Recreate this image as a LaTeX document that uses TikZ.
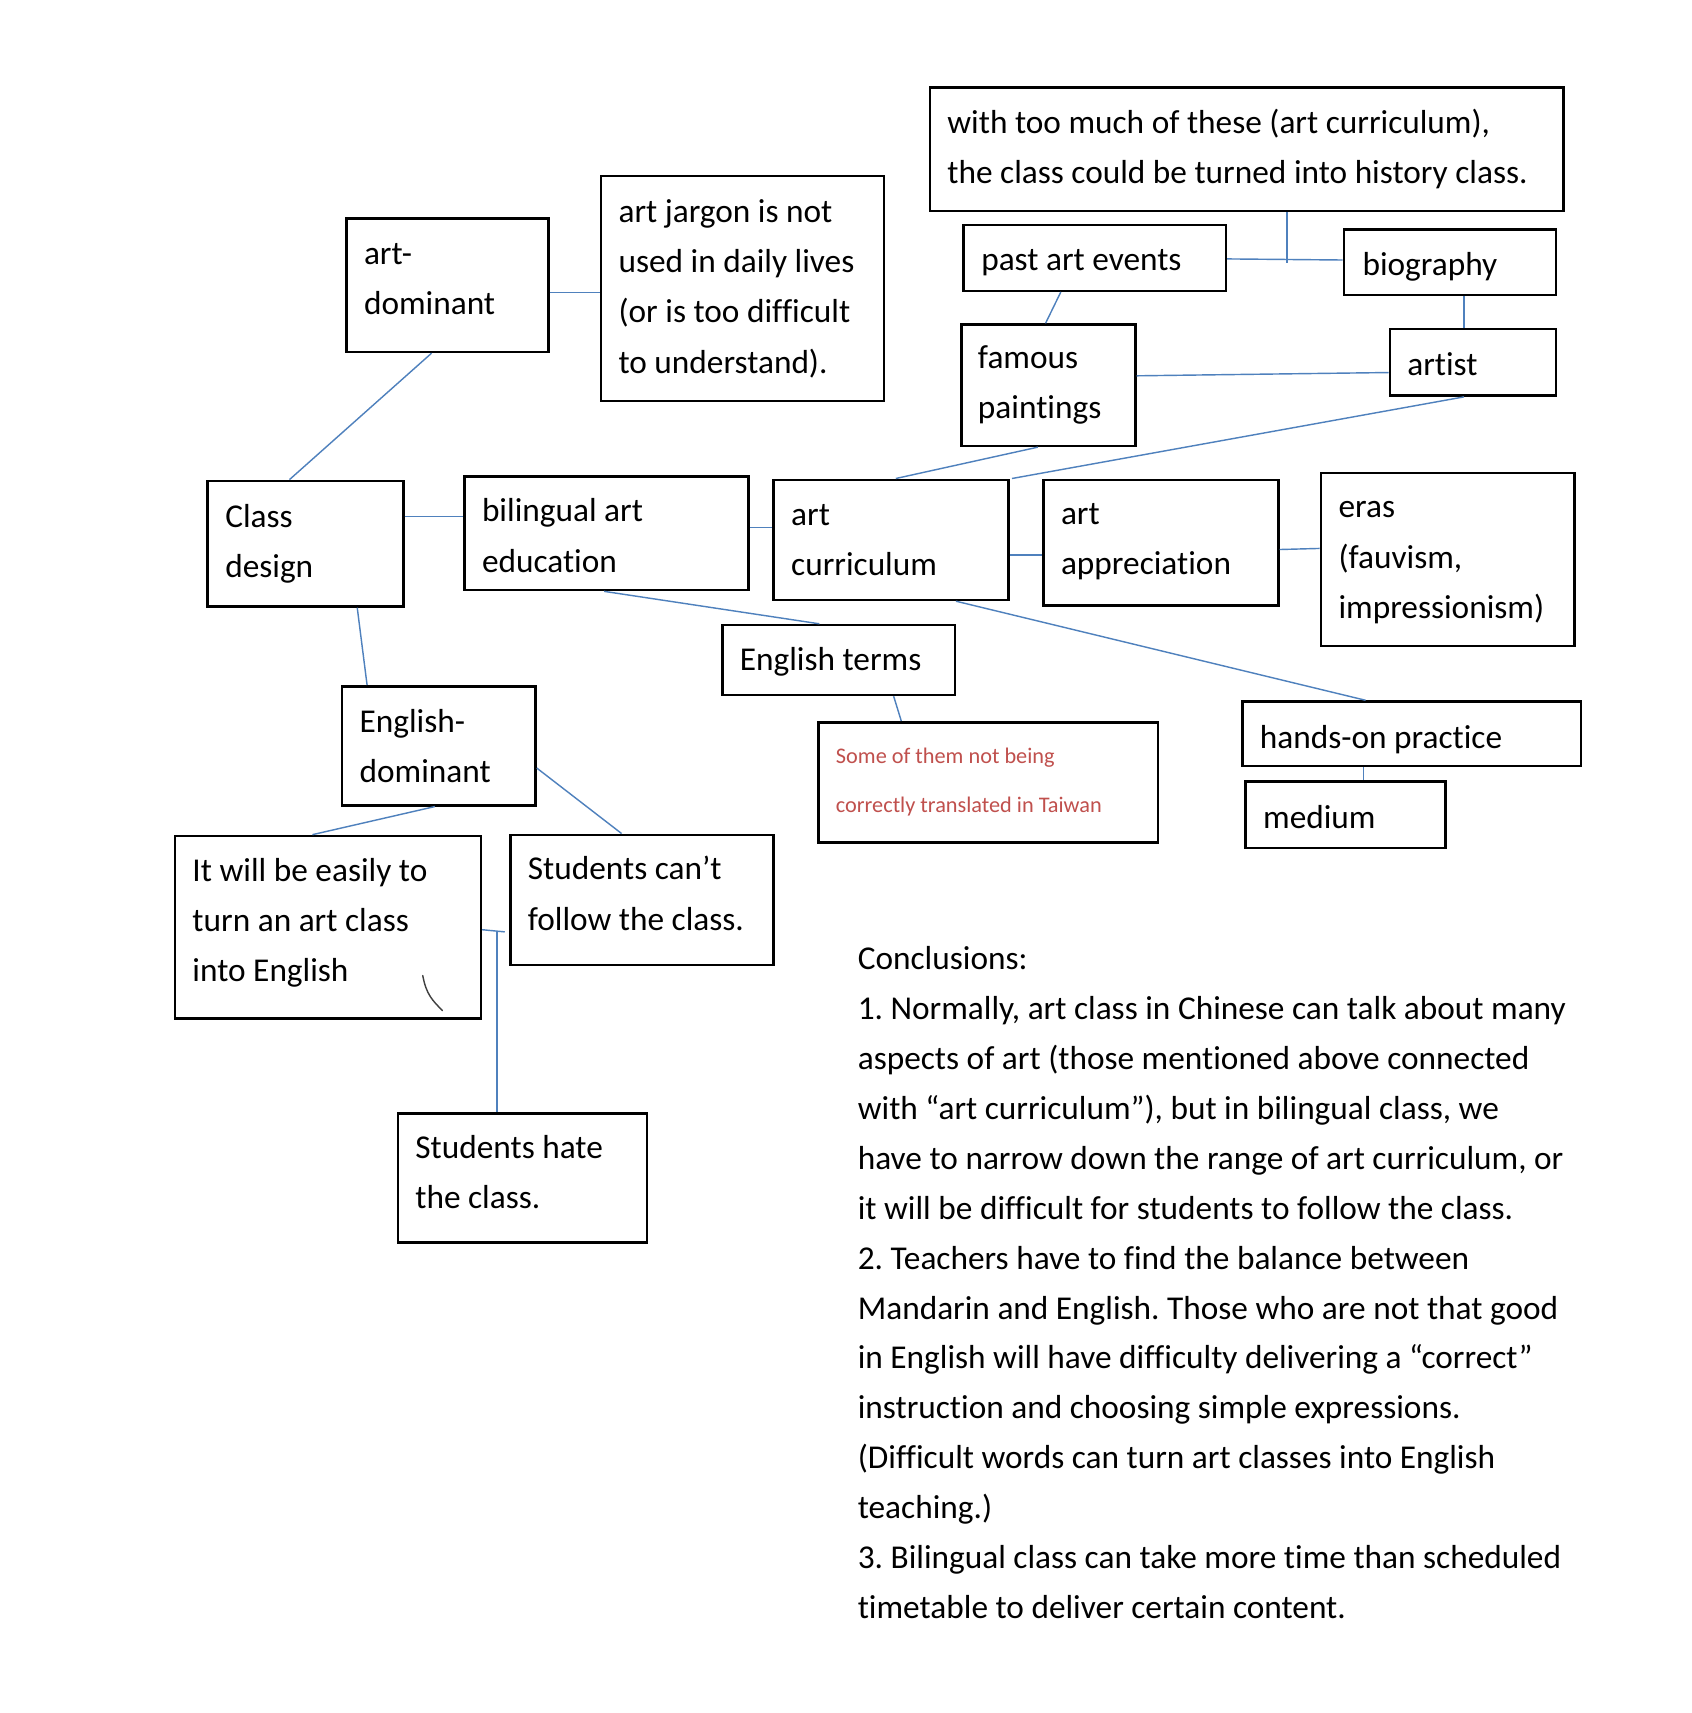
\documentclass[tikz,border=0pt]{standalone}
\usepackage{fontspec}
\setmainfont[Ligatures=NoCommon]{Carlito}
\frenchspacing
\definecolor{connblue}{RGB}{79,129,189}
\definecolor{notered}{RGB}{192,80,77}
\begin{document}
\begin{tikzpicture}[x=1pt,y=-1pt,
  box/.style={draw=black, line width=2.3pt, anchor=north west, inner sep=0pt},
  lbl/.style={anchor=west, align=left, inner sep=0pt, font=\fontsize{30.5}{46}\selectfont},
  redlbl/.style={anchor=west, align=left, inner sep=0pt, text=notered, font=\fontsize{20.4}{45}\selectfont},
  conline/.style={anchor=base west, inner sep=0pt, font=\fontsize{30.5}{46}\selectfont},
  conn/.style={draw=connblue, line width=1.3pt}]
\useasboundingbox[fill=white] (0,0) rectangle (1548,1568);
% boxes
\node[box, minimum width=580pt, minimum height=113pt] (hist) at (850,79) {};
\node[box, minimum width=259pt, minimum height=206pt] (jargon) at (549,160) {};
\node[box, minimum width=185pt, minimum height=122pt] (artdom) at (316,199) {};
\node[box, minimum width=240pt, minimum height=60pt] (past) at (881,205) {};
\node[box, minimum width=194pt, minimum height=60pt] (bio) at (1229,209) {};
\node[box, minimum width=159pt, minimum height=111pt] (famous) at (879,296) {};
\node[box, minimum width=152pt, minimum height=61pt] (artist) at (1271,300) {};
\node[box, minimum width=179pt, minimum height=115pt] (classd) at (189,439) {};
\node[box, minimum width=260pt, minimum height=104pt] (bil) at (424,435) {};
\node[box, minimum width=215pt, minimum height=110pt] (artcur) at (707,438) {};
\node[box, minimum width=215pt, minimum height=115pt] (artapp) at (954,438) {};
\node[box, minimum width=232pt, minimum height=158pt] (eras) at (1208,432) {};
\node[box, minimum width=213pt, minimum height=64pt] (terms) at (660,571) {};
\node[box, minimum width=311pt, minimum height=110pt] (red) at (748,660) {};
\node[box, minimum width=310pt, minimum height=59pt] (hands) at (1136,641) {};
\node[box, minimum width=183pt, minimum height=61pt] (medium) at (1139,714) {};
\node[box, minimum width=177pt, minimum height=109pt] (engdom) at (312,627) {};
\node[box, minimum width=280pt, minimum height=167pt] (itwill) at (159,764) {};
\node[box, minimum width=241pt, minimum height=119pt] (cant) at (466,763) {};
\node[box, minimum width=228pt, minimum height=118pt] (hate) at (363,1018) {};
% texts
\node[lbl] (thist) at ([xshift=17pt]hist.west) {with too much of these (art curriculum),\\the class could be turned into history class.};
\node[lbl] (tjargon) at ([xshift=17pt]jargon.west) {art jargon is not\\used in daily lives\\(or is too difficult\\to understand).};
\node[lbl] (tartdom) at ([xshift=17pt,yshift=6pt]artdom.west) {art-\\dominant};
\node[lbl] (tpast) at ([xshift=17pt,yshift=-4pt]past.west) {past art events};
\node[lbl] (tbio) at ([xshift=18pt,yshift=-4pt]bio.west) {biography};
\node[lbl] (tfamous) at ([xshift=16pt]famous.west) {famous\\paintings};
\node[lbl] (tartist) at ([xshift=17pt,yshift=-2pt]artist.west) {artist};
\node[lbl] (tclassd) at ([xshift=17pt]classd.west) {Class\\design};
\node[lbl] (tbil) at ([xshift=17pt,yshift=-2pt]bil.west) {bilingual art\\education};
\node[lbl] (tartcur) at ([xshift=17pt]artcur.west) {art\\curriculum};
\node[lbl] (tartapp) at ([xshift=17pt,yshift=1pt]artapp.west) {art\\appreciation};
\node[lbl] (teras) at ([xshift=17pt,yshift=-3pt]eras.west) {eras\\(fauvism,\\impressionism)};
\node[lbl] (tterms) at ([xshift=17pt,yshift=-2pt]terms.west) {English terms};
\node[redlbl] (tred) at ([xshift=17pt]red.west) {Some of them not being\\correctly translated in Taiwan};
\node[lbl] (thands) at ([xshift=17pt,yshift=-5pt]hands.west) {hands-on practice};
\node[lbl] (tmedium) at ([xshift=17pt,yshift=-2pt]medium.west) {medium};
\node[lbl] (tengdom) at ([xshift=17pt]engdom.west) {English-\\dominant};
\node[lbl] (titwill) at ([xshift=17pt,yshift=4pt]itwill.west) {It will be easily to\\turn an art class\\into English};
\node[lbl] (tcant) at ([xshift=17pt,yshift=6pt]cant.west) {Students can’t\\follow the class.};
\node[lbl] (thate) at ([xshift=17pt,yshift=5pt]hate.west) {Students hate\\the class.};
% connectors
\draw[conn] ([yshift=-69pt]artdom.north east) -- ([yshift=-108pt]jargon.north west);
\draw[conn] ([xshift=79pt]artdom.south west) -- ([xshift=76pt]classd.north west);
\draw[conn] ([yshift=-34pt]classd.north east) -- ([yshift=-38pt]bil.north west);
\draw[conn] ([yshift=-48pt]bil.north east) -- ([yshift=-45pt]artcur.north west);
\draw[conn] ([yshift=-70pt]artcur.north east) -- ([yshift=-70pt]artapp.north west);
\draw[conn] ([yshift=-65pt]artapp.north east) -- ([yshift=-70pt]eras.north west);
\draw[conn] ([xshift=113pt]artcur.north west) -- ([xshift=71pt]famous.south west);
\draw[conn] ([xshift=2pt]artcur.north east) -- ([xshift=69pt]artist.south west);
\draw[conn] ([yshift=-48pt]famous.north east) -- ([yshift=-41pt]artist.north west);
\draw[conn] ([xshift=90pt]past.south west) -- ([xshift=78pt]famous.north west);
\draw[conn] ([yshift=-32pt]past.north east) -- ([yshift=-29pt]bio.north west);
\coordinate (tj) at ([xshift=328pt,yshift=-46pt]hist.south west);
\draw[conn] ([xshift=328pt]hist.south west) -- (tj);
\draw[conn] ([xshift=111pt]bio.south west) -- ([xshift=69pt]artist.north west);
\draw[conn] ([xshift=129pt]bil.south west) -- ([xshift=90pt]terms.north west);
\draw[conn] ([xshift=168pt]artcur.south west) -- ([xshift=114pt]hands.north west);
\draw[conn] ([xshift=158pt]terms.south west) -- ([xshift=77pt]red.north west);
\draw[conn] ([xshift=112pt]hands.south west) -- ([xshift=109pt]medium.north west);
\draw[conn] ([xshift=138pt]classd.south west) -- ([xshift=24pt]engdom.north west);
\draw[conn] ([xshift=86pt]engdom.south west) -- ([xshift=127pt]itwill.north west);
\draw[conn] ([yshift=-76pt]engdom.north east) -- ([xshift=103pt]cant.north west);
\coordinate (tk) at (462,853);
\coordinate (tv) at (455,853);
\draw[conn] ([yshift=-87pt]itwill.north east) -- (tk);
\draw[conn] (tv) -- ([xshift=92pt]hate.north west);
% stray pen mark
\draw[black!75, line width=1.3pt, line cap=round] (387,893) .. controls (390,910) and (396,916) .. (405,925);
% conclusions
\node[conline] (c0) at (785,887.5) {Conclusions:};
\node[conline] (c1) at (785,933.2) {1. Normally, art class in Chinese can talk about many};
\node[conline] (c2) at (785,978.9) {aspects of art (those mentioned above connected};
\node[conline] (c3) at (785,1024.6) {with “art curriculum”), but in bilingual class, we};
\node[conline] (c4) at (785,1070.3) {have to narrow down the range of art curriculum, or};
\node[conline] (c5) at (785,1116) {it will be difficult for students to follow the class.};
\node[conline] (c6) at (785,1161.7) {2. Teachers have to find the balance between};
\node[conline] (c7) at (785,1207.4) {Mandarin and English. Those who are not that good};
\node[conline] (c8) at (785,1253.1) {in English will have difficulty delivering a “correct”};
\node[conline] (c9) at (785,1298.8) {instruction and choosing simple expressions.};
\node[conline] (c10) at (785,1344.5) {(Difficult words can turn art classes into English};
\node[conline] (c11) at (785,1390.2) {teaching.)};
\node[conline] (c12) at (785,1435.9) {3. Bilingual class can take more time than scheduled};
\node[conline] (c13) at (785,1481.6) {timetable to deliver certain content.};
\end{tikzpicture}
\end{document}
